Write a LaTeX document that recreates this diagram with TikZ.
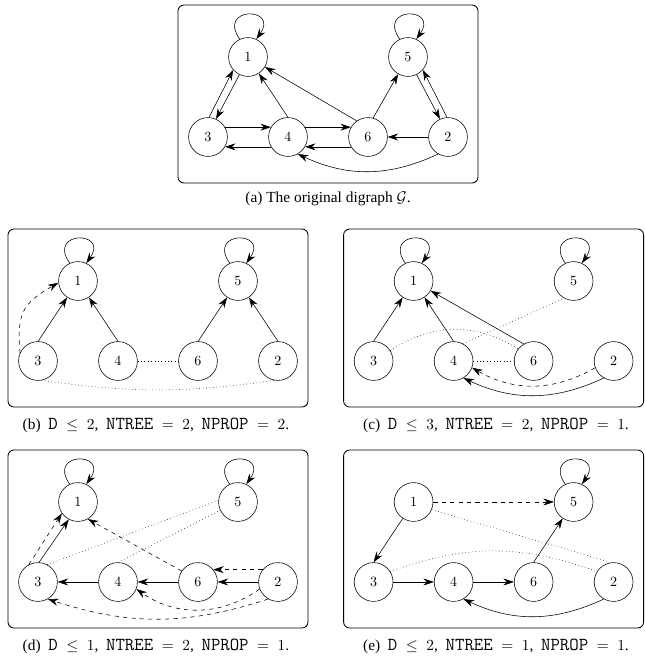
\documentclass[tikz,border=0pt]{standalone}
\usepackage[no-math]{fontspec}
\setmainfont{Liberation Serif}
\usetikzlibrary{arrows.meta}
\tikzset{
  vertex/.style={circle, draw, minimum size=0.97cm, inner sep=0pt},
  panel/.style={draw, line width=0.6pt, rounded corners=0.15cm},
  selfloop/.style={out=125, in=55, distance=1cm},
  darc/.style={->, dashed},
  dotl/.style={dotted},
  caption/.style={inner sep=1pt, font=\fontsize{10.95}{13}\selectfont},
  subcaption/.style={caption, execute at begin node={\thickmuskip=10mu\spaceskip=5.5pt plus 1pt}},
  >={Stealth[length=7.5pt, width=5pt, inset=2.5pt]}
}
\newcommand{\param}[1]{{\fontsize{13}{15}\selectfont\ttfamily #1}}
\begin{document}
\begin{tikzpicture}
  \useasboundingbox (0,0) rectangle (16.1,-16.65);
  % frames and vertices of the five panels
  \foreach \p/\x/\y in {a/5.2/-3.425, b/0.95/-9.025, c/9.34/-9.025, d/0.95/-14.55, e/9.34/-14.55} {
    \draw[panel] (\x-0.75,\y-1.15) rectangle (\x+6.75,\y+3.3);
    \node[vertex] (\p3) at (\x,\y) {$3$};
    \node[vertex] (\p4) at (\x+2,\y) {$4$};
    \node[vertex] (\p6) at (\x+4,\y) {$6$};
    \node[vertex] (\p2) at (\x+6,\y) {$2$};
    \node[vertex] (\p1) at (\x+1,\y+2) {$1$};
    \node[vertex] (\p5) at (\x+5,\y+2) {$5$};
  }
  % (a)
  \draw[->] (a1.115) to[selfloop] (a1.65);
  \draw[->] (a5.115) to[selfloop] (a5.65);
  \draw[->] (a3.87) -- (a1.221);
  \draw[->] (a1.244) -- (a3.66);
  \draw[->] (a4.north) -- (a1);
  \draw[->] (a6.125) -- (a1);
  \draw[->] (a3.30) -- (a4.150);
  \draw[->] (a4.210) -- (a3.330);
  \draw[->] (a4.30) -- (a6.150);
  \draw[->] (a6.210) -- (a4.330);
  \draw[->] (a6.75) -- (a5.240);
  \draw[->] (a5.296) -- (a2.114);
  \draw[->] (a2.93) -- (a5.319);
  \draw[->] (a2) -- (a6);
  \draw[->] (a2.240) to[bend left=25] (a4.300);
  % (b)
  \draw[->] (b1.115) to[selfloop] (b1.65);
  \draw[->] (b5.115) to[selfloop] (b5.65);
  \draw[->] (b3.north) -- (b1);
  \draw[->] (b4.north) -- (b1);
  \draw[->] (b6.north) -- (b5);
  \draw[->] (b2.north) -- (b5);
  \draw[darc] (b3.156) to[out=95, in=210, looseness=1.3] (b1.185);
  \draw[dotl] (b4) -- (b6);
  \draw[dotl] (b3.-80) to[bend right=8] (b2.-100);
  % (c)
  \draw[->] (c1.115) to[selfloop] (c1.65);
  \draw[->] (c5.115) to[selfloop] (c5.65);
  \draw[->] (c3.north) -- (c1);
  \draw[->] (c4.north) -- (c1);
  \draw[->] (c6.120) -- (c1);
  \draw[dotl] (c3.32) to[bend left=33] (c6.142);
  \draw[dotl] (c4.62) -- (c5.241);
  \draw[dotl] (c4) -- (c6);
  \draw[darc] (c2.200) to[bend left=30] (c4.340);
  \draw[->] (c2.240) to[bend left=25] (c4.300);
  % (d)
  \draw[->] (d1.115) to[selfloop] (d1.65);
  \draw[->] (d5.115) to[selfloop] (d5.65);
  \draw[darc] (d3.118) -- (d1.215);
  \draw[->] (d3.87) -- (d1.242);
  \draw[darc] (d6.146) -- (d1.300);
  \draw[dotl] (d3.62) -- (d5.175);
  \draw[dotl] (d4.north) -- (d5.205);
  \draw[->] (d4) -- (d3);
  \draw[->] (d6) -- (d4);
  \draw[->] (d2) -- (d6);
  \draw[darc] (d2.141) -- (d6.39);
  \draw[darc] (d2.201) to[bend left=35] (d4.339);
  \draw[darc] (d2.240) to[bend left=18] (d3.300);
  % (e)
  \draw[->] (e5.115) to[selfloop] (e5.65);
  \draw[darc] (e1) -- (e5);
  \draw[->] (e1) -- (e3.north);
  \draw[->] (e3) -- (e4);
  \draw[->] (e4) -- (e6);
  \draw[->] (e6.north) -- (e5);
  \draw[->] (e2.240) to[bend left=25] (e4.300);
  \draw[dotl] (e1.337) -- (e2.97);
  \draw[dotl] (e3.32) to[bend left=20] (e2.148);
  % captions
  \node[caption] (capa) at (8.2,-4.975) {(a) The original digraph $\mathcal{G}$.};
  \node[subcaption] (capb) at (3.9,-10.63) {(b) \param{D}${}\leq 2$, \param{NTREE}${}=2$, \param{NPROP}${}=2$.};
  \node[subcaption] (capc) at (12.4,-10.63) {(c) \param{D}${}\leq 3$, \param{NTREE}${}=2$, \param{NPROP}${}=1$.};
  \node[subcaption] (capd) at (3.9,-16.17) {(d) \param{D}${}\leq 1$, \param{NTREE}${}=2$, \param{NPROP}${}=1$.};
  \node[subcaption] (cape) at (12.4,-16.17) {(e) \param{D}${}\leq 2$, \param{NTREE}${}=1$, \param{NPROP}${}=1$.};
\end{tikzpicture}
\end{document}
